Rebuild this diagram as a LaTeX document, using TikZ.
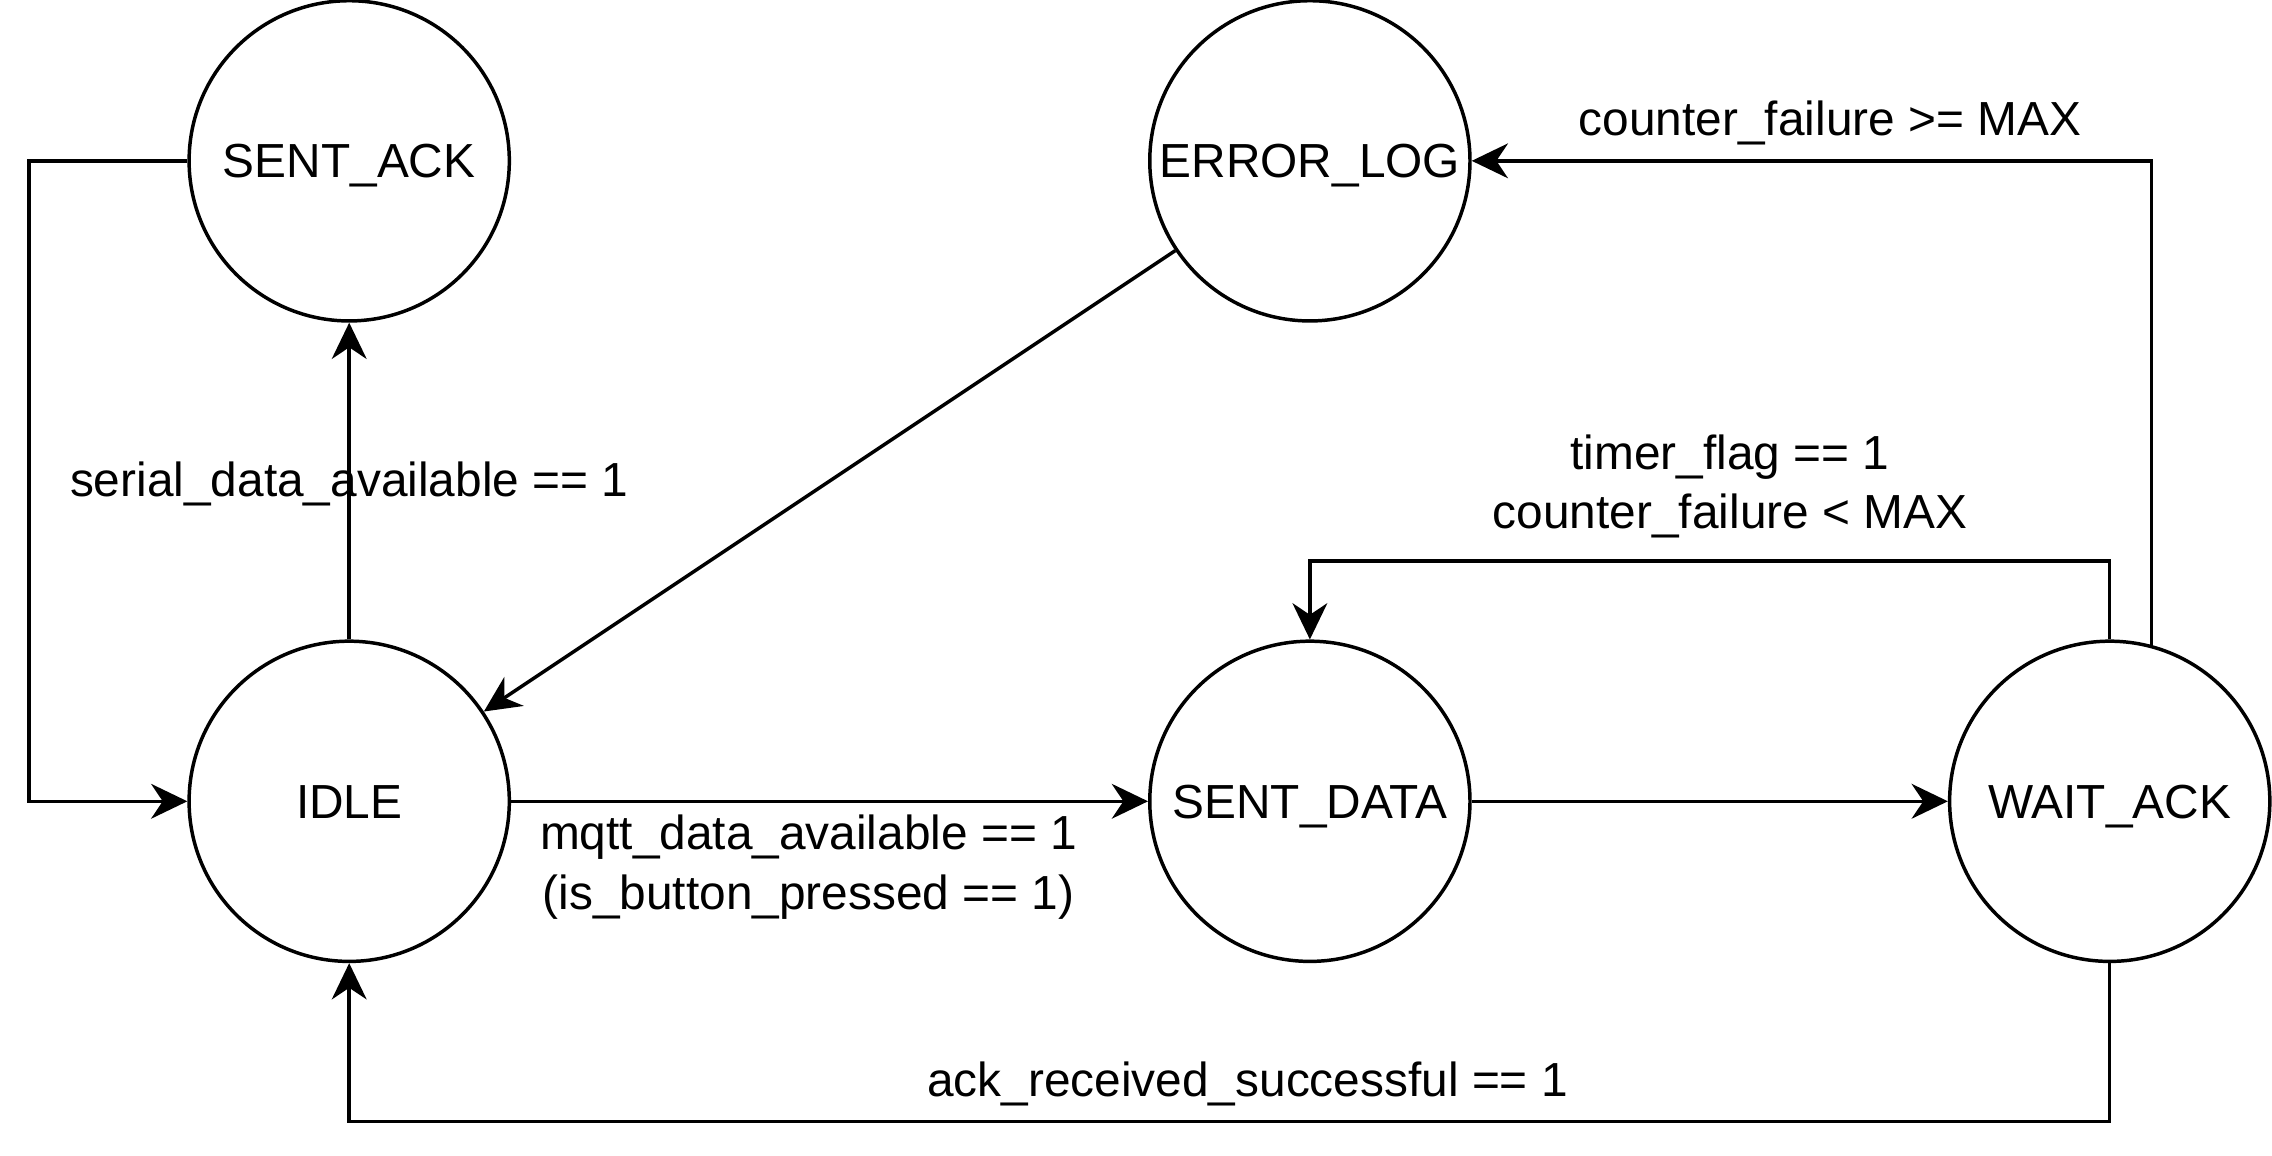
\documentclass[tikz,border=0pt]{standalone}
\usepackage{fontspec}
\setmainfont{Liberation Sans}
\usetikzlibrary{arrows.meta}
\begin{document}
\begin{tikzpicture}[x=0.5pt,y=-0.5pt,
  every node/.style={font=\fontsize{16.5}{20.5}\selectfont},
  state/.style={draw, circle, line width=1.2pt, minimum size=110.5pt, inner sep=0pt,
    text height=11.8pt, text depth=0pt},
  lbl/.style={inner sep=0pt, align=center},
  arr/.style={line width=1.2pt, -{Stealth[length=12.5pt,width=12pt,inset=4pt]}},
  ln/.style={line width=1.2pt}]
\useasboundingbox (0,0) rectangle (1568,797.8);
\node[state] (sack) at (241,111) {SENT\_ACK};
\node[state] (err)  at (904,111) {ERROR\_LOG};
\node[state] (idle) at (241,553) {IDLE};
\node[state] (sdata) at (904,553) {SENT\_DATA};
\node[state] (wait) at (1456,553) {WAIT\_ACK};
\coordinate (lc) at (20,330);
\coordinate (tm) at (1180,387);
\coordinate (bm) at (861,774);
% edges
\draw[arr] (idle.north) -- (sack.south);
\draw[arr] (sack.west) -| (lc) |- (idle.west);
\draw[arr] (err) -- (idle);
\draw[arr] (idle.east) -- (sdata.west);
\draw[arr] (sdata.east) -- (wait.west);
\draw[arr] (wait.north) |- (tm) -| (sdata.north);
\draw[arr] (wait.75.3) |- (err.east);
\draw[arr] (wait.south) |- (bm) -| (idle.south);
% labels
\node[lbl, anchor=base] (l1) at (241,342.8) {serial\_data\_available == 1};
\node[lbl] (l2) at (558,598.3) {mqtt\_data\_available == 1\\(is\_button\_pressed == 1)};
\node[lbl] (l3) at (1194,335.8) {timer\_flag == 1\\counter\_failure < MAX};
\node[lbl, anchor=base] (l4) at (1263,93.8) {counter\_failure >= MAX};
\node[lbl, anchor=base] (l5) at (861,756.8) {ack\_received\_successful == 1};
\end{tikzpicture}
\end{document}
